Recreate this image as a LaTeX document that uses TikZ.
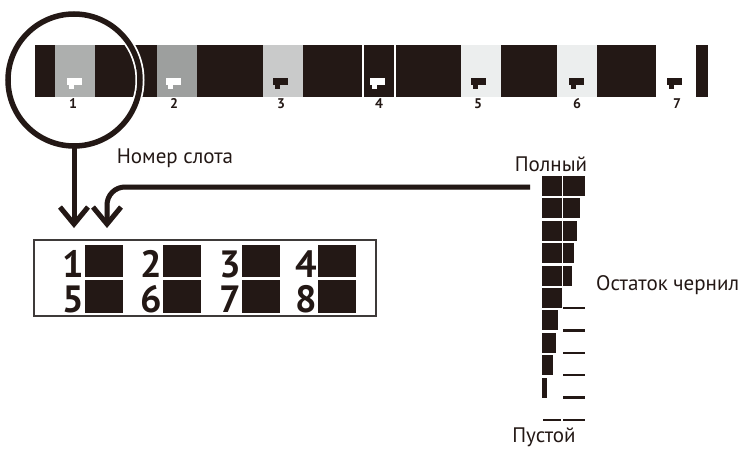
\documentclass[tikz,border=0pt]{standalone}
\usepackage{fontspec}
\setmainfont{PT Sans}
\usetikzlibrary{positioning, arrows.meta, calc}
\definecolor{ink}{HTML}{231815}
\definecolor{frame}{HTML}{3E3A39}
\definecolor{grayA}{HTML}{ADAFAE}
\definecolor{grayB}{HTML}{9D9F9E}
\definecolor{grayC}{HTML}{C9CACA}
\definecolor{grayD}{HTML}{ECEEEE}

\begin{document}
\begin{tikzpicture}[x=1pt, y=-1pt,
    label/.style={font=\fontsize{21}{21}\selectfont, text=ink, inner sep=0pt},
    digit/.style={font=\bfseries\fontsize{14}{14}\selectfont, text=ink, inner sep=0pt},
    bigdigit/.style={font=\bfseries\fontsize{38}{38}\selectfont, text=ink, inner sep=0pt,
        text height=26pt, text depth=0pt},
    pointer/.style={draw=ink, line width=5pt, -{Straight Barb[length=17pt, width=28pt, line width=5pt]}},
    halo/.style={draw=black!16, xshift=3pt, yshift=-3pt}]
    \useasboundingbox (0,0) rectangle (753,452);

    % cartridge bar
    \fill[ink] (35,45) rectangle (708,97);
    \foreach \x/\c [count=\i] in {55/grayA,157/grayB,263/grayC,363/ink,461/grayD,557/grayD,656/white} {
        \node[fill=\c, minimum width=40pt, minimum height=52pt, inner sep=0pt, anchor=north west] (slot\i) at (\x,45) {};
    }
    \fill[white] (362,45) rectangle (364,97);
    \fill[white] (394,45) rectangle (396,97);
    \foreach \x/\c in {75/white,174/white,281/ink,378/white,479/ink,577/ink,675/ink} {
        \fill[\c] (\x-8,78) rectangle (\x+7,85);
        \fill[\c] (\x-6,85) rectangle (\x-1,89);
    }
    \foreach \x [count=\i] in {73,174,281,379,478,577,677} {
        \node[digit] (n\i) at (\x,104) {\i};
    }

    % slot selection
    \node[circle, minimum size=136pt, inner sep=0pt] (sel) at (74,80) {};
    \draw[halo, line width=8pt] (sel.center) circle (66);
    \draw[white, line width=9pt] (sel.center) circle (66);
    \draw[ink, line width=5.5pt] (sel.center) circle (66);
    \node[label] (slotname) at (175,158) {Номер слота};

    % panel
    \node[draw=frame, line width=1.5pt, minimum width=342pt, minimum height=76pt, anchor=north west] (panel) at (33,239) {};
    \foreach \x/\a/\b [count=\j] in {85/1/5,163/2/6,242/3/7,318/4/8} {
        \fill[ink] (\x,245) rectangle (\x+38,277);
        \fill[ink] (\x,280) rectangle (\x+38,313);
        \node[bigdigit, anchor=base east] (top\j) at (\x-1,277) {\a};
        \node[bigdigit, anchor=base east] (bot\j) at (\x-1,312) {\b};
    }

    % ink gauge
    \foreach \w [count=\k] in {20,20,20,20,20,20,16,14,11,5} {
        \fill[ink] (542,176+22.4*\k-22.4) rectangle (542+\w,176+22.4*\k-2.4);
    }
    \foreach \w [count=\k] in {22,17,14,11,9} {
        \fill[ink] (563,176+22.4*\k-22.4) rectangle (563+\w,176+22.4*\k-2.4);
    }
    \foreach \k in {6,...,11} {
        \draw[ink, line width=2.5pt] (563,176+22.4*\k-2.4) -- (585,176+22.4*\k-2.4);
    }
    \draw[ink, line width=2.5pt] (543,420) -- (561,420);
    \node[label] (full) at (551,164) {Полный};
    \node[label, anchor=west] (level) at (596,285) {Остаток чернил};
    \node[label] (empty) at (544,437) {Пустой};

    % pointers
    \coordinate (gauge) at (530,187);
    \coordinate (tipA) at (74,228);
    \coordinate (tipB) at (107,228);
    \draw[pointer, halo] (sel.south) -- (tipA);
    \draw[pointer, halo, rounded corners=18pt] (gauge) -| (tipB);
    \draw[pointer] (sel.south) -- (tipA);
    \draw[pointer, rounded corners=18pt] (gauge) -| (tipB);
\end{tikzpicture}
\end{document}
